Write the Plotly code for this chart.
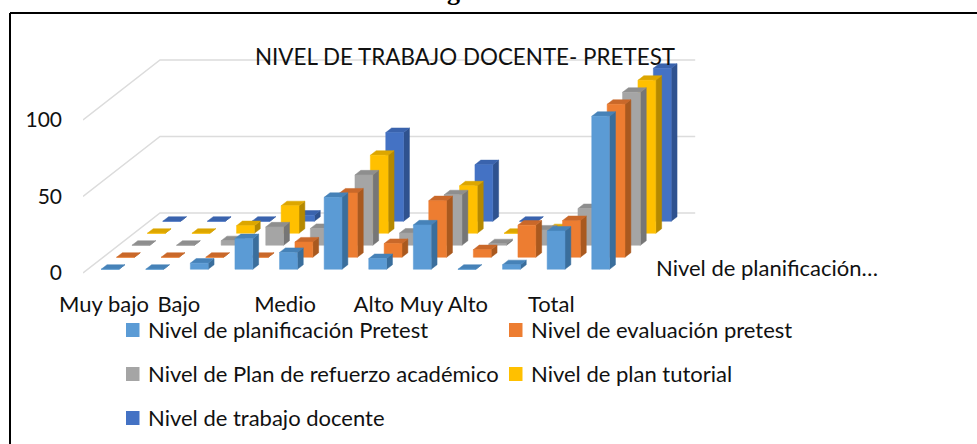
import plotly.graph_objects as go

# ---------- data ----------
categories = ["Muy bajo f", "Muy bajo %", "Bajo f", "Bajo %", "Medio f", "Medio %",
              "Alto f", "Alto %", "Muy Alto f", "Muy Alto %", "Total f", "Total %"]
planificacion = [0, 0, 4, 20, 11, 47, 7, 29, 0, 3, 25, 100]
evaluacion    = [0, 0, 0, 0, 10, 42, 9, 37, 5, 21, 24, 100]
refuerzo      = [0, 0, 3, 12, 11, 46, 8, 33, 1, 10, 24, 100]
tutorial      = [0, 0, 5, 18, 13, 51, 3, 31, 0, 3, 25, 100]
trabajo       = [0, 0, 0, 4, 14, 58, 9, 37, 0, 0, 25, 100]
series_names = ["Nivel de planificación Pretest", "Nivel de evaluación pretest",
                "Nivel de Plan de refuerzo académico", "Nivel de plan tutorial",
                "Nivel de trabajo docente"]
tick_labels = ["Muy bajo", "Bajo", "Medio", "Alto", "Muy Alto", "Total"]
value_ticks = [0, 50, 100]
chart_title = "NIVEL DE TRABAJO DOCENTE- PRETEST"
heading = "Figura N° 2"
depth_label = "Nivel de planificación…"

series_values = [planificacion, evaluacion, refuerzo, tutorial, trabajo]
front_colors = ["#5B9BD5", "#ED7D31", "#A5A5A5", "#FFC000", "#4472C4"]
side_colors  = ["#3A6E9C", "#A9591F", "#767676", "#B58900", "#2F528F"]
top_colors   = ["#4682B8", "#C9682A", "#8E8E8E", "#DCA600", "#3A63AD"]

# ---------- layout constants (pixels) ----------
W, H = 977, 444
X0, Y0 = 83, 273            # front-left floor corner
CELL = 44.6                 # px per category
PX_PER_UNIT = 1.53          # px per value unit
PLOT_BOTTOM = 289
STEP_X, STEP_Y = 15.4, 12.0 # oblique depth step per series, px
BAR_W, D0, D1 = 0.40, 0.31, 0.69
DX = STEP_X / CELL
DY = STEP_Y / PX_PER_UNIT
FONT = "Lato, Carlito, Calibri, sans-serif"
FS = 22


def proj(cat, depth, val):
    """Oblique projection into the axes' (category, value) units."""
    return cat + depth * DX, val + depth * DY


def polygons(faces):
    xs, ys = [], []
    for face in faces:
        pts = [proj(*p) for p in face]
        pts.append(pts[0])
        xs += [p[0] for p in pts] + [None]
        ys += [p[1] for p in pts] + [None]
    return xs, ys


fig = go.Figure()

# gridlines on the walls
n_cat = len(categories)
n_ser = len(series_values)
for v in value_ticks:
    gx, gy = zip(proj(0, 0, v), proj(0, n_ser, v), proj(n_cat + 0.0, n_ser, v))
    fig.add_trace(go.Scatter(x=gx, y=gy, mode="lines", line=dict(color="#DCDCDC", width=1.5),
                             hoverinfo="skip", showlegend=False))

# bars, painted from back row to front row
for s in range(n_ser - 1, -1, -1):
    fronts, sides, tops = [], [], []
    for c, v in enumerate(series_values[s]):
        a = c + 0.5 - BAR_W / 2
        b = c + 0.5 + BAR_W / 2
        d0, d1 = s + D0, s + D1
        fronts.append([(a, d0, 0), (b, d0, 0), (b, d0, v), (a, d0, v)])
        sides.append([(b, d0, 0), (b, d1, 0), (b, d1, v), (b, d0, v)])
        tops.append([(a, d0, v), (b, d0, v), (b, d1, v), (a, d1, v)])
    for faces, col in ((sides, side_colors[s]), (tops, top_colors[s]), (fronts, front_colors[s])):
        fx, fy = polygons(faces)
        fig.add_trace(go.Scatter(x=fx, y=fy, mode="lines", fill="toself", fillcolor=col,
                                 line=dict(width=0.5, color=col), name=series_names[s],
                                 hoverinfo="name", showlegend=False))


def px(x):
    return x / W


def py(y):
    return 1 - y / H


annotations = [
    dict(text=chart_title, x=px(465), y=py(56), xanchor="center", yanchor="middle",
         font=dict(size=22.4, color="#111")),
    dict(text=depth_label, x=px(655), y=py(267), xanchor="left", yanchor="middle",
         font=dict(size=FS, color="#111")),
    dict(text="<b>%s</b>" % heading, x=px(489), y=py(7.5), xanchor="center", yanchor="bottom",
         font=dict(size=26, family="Liberation Serif, serif", color="#000")),
]
shapes = [
    dict(type="line", xref="paper", yref="paper", x0=px(10), x1=1, y0=py(13), y1=py(13),
         line=dict(color="#000", width=2)),
    dict(type="line", xref="paper", yref="paper", x0=px(10), x1=px(10), y0=py(13), y1=0,
         line=dict(color="#000", width=2)),
]
legend_pos = [(126, 330), (509, 330), (126, 374), (509, 374), (126, 418)]
for name, col, (lx, ly) in zip(series_names, front_colors, legend_pos):
    shapes.append(dict(type="rect", xref="paper", yref="paper", x0=px(lx), x1=px(lx + 13.5),
                       y0=py(ly - 7), y1=py(ly + 7), fillcolor=col, line=dict(width=0)))
    annotations.append(dict(text=name, x=px(lx + 21), y=py(ly - 1), xanchor="left", yanchor="middle",
                            font=dict(size=FS, color="#111")))

tick_positions = [0.47, 2.15, 4.53, 6.52, 8.09, 10.5]

fig.update_layout(
    width=W, height=H, margin=dict(l=0, r=0, t=0, b=0),
    paper_bgcolor="white", plot_bgcolor="white",
    font=dict(family=FONT, size=FS, color="#111"),
    showlegend=False,
    annotations=[dict(a, showarrow=False, xref="paper", yref="paper", borderpad=0) for a in annotations],
    shapes=shapes,
    xaxis=dict(domain=[X0 / W, 1], range=[0, (W - X0) / CELL], showgrid=False, zeroline=False,
               showline=False, ticks="", tickmode="array", tickvals=tick_positions,
               ticktext=tick_labels, tickangle=0, ticklabelstandoff=0, fixedrange=True,
               automargin=False, tickfont=dict(size=FS)),
    yaxis=dict(domain=[(H - PLOT_BOTTOM) / H, 1],
               range=[(Y0 - PLOT_BOTTOM) / PX_PER_UNIT, Y0 / PX_PER_UNIT],
               showgrid=False, zeroline=False, showline=False, ticks="", tickmode="array",
               tickvals=value_ticks, ticktext=[str(v) for v in value_ticks], ticklabelstandoff=20,
               fixedrange=True, automargin=False, tickfont=dict(size=21)),
)

fig.write_html("out.html", config=dict(displayModeBar=False),
               post_script="document.body.style.margin='0';")
